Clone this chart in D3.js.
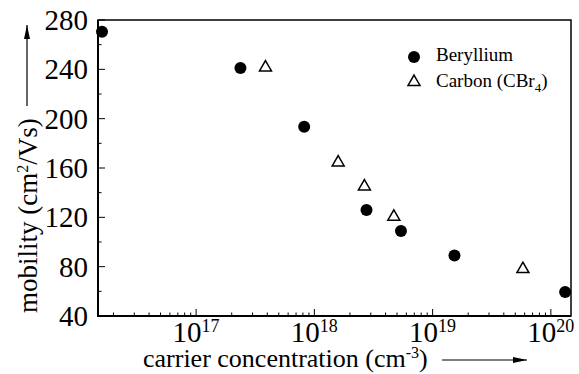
<!DOCTYPE html>
<html>
<head>
<meta charset="utf-8">
<script src="https://cdn.jsdelivr.net/npm/d3@7"></script>
</head>
<body style="margin:0; background:#fff">
<div id="chart-area"></div>
<script>
// data
var berylliumConc = [1.6e16, 2.37e17, 8.2e17, 2.76e18, 5.4e18, 1.53e19, 1.32e20];
var berylliumMob  = [270.5, 241, 193.5, 126, 109, 89, 59.5];
var carbonConc = [3.86e17, 1.59e18, 2.65e18, 4.7e18, 5.8e19];
var carbonMob  = [241.5, 164.5, 145, 120.5, 78];
var xTickExp = [17, 18, 19, 20];
var yTicks = [40, 80, 120, 160, 200, 240, 280];

var serif = "Liberation Serif";

var margin = {top: 20, right: 8, bottom: 58, left: 98};
var width = 579 - margin.left - margin.right,
    height = 374 - margin.top - margin.bottom;

var svg = d3.select("#chart-area")
    .append("svg")
    .attr("width", 579)
    .attr("height", 374);

var g = svg.append("g")
    .attr("transform", "translate(" + margin.left + "," + margin.top + ")");

var x = d3.scaleLog()
    .domain([1.48e16, 1.48e20])
    .range([0, width]);

var y = d3.scaleLinear()
    .domain([40, 280])
    .range([height, 0]);

// frame
g.append("rect")
    .attr("width", width)
    .attr("height", height)
    .attr("fill", "none")
    .attr("stroke", "#000")
    .attr("stroke-width", 1.5);
g.append("path")
    .attr("d", "M0,0V" + height + "H" + width)
    .attr("fill", "none")
    .attr("stroke", "#000")
    .attr("stroke-width", 2);

// bottom ticks (inside), major + minor log ticks
var minor = [];
for (var e = 16; e <= 20; e++) {
    for (var m = 1; m <= 9; m++) {
        var v = m * Math.pow(10, e);
        if (v >= x.domain()[0] && v <= x.domain()[1]) minor.push({v: v, major: m === 1});
    }
}
g.selectAll(".xtick")
    .data(minor)
    .enter().append("line")
    .attr("class", "xtick")
    .attr("x1", function(d) { return x(d.v); })
    .attr("x2", function(d) { return x(d.v); })
    .attr("y1", height)
    .attr("y2", function(d) { return height - (d.major ? 7 : 3.5); })
    .attr("stroke", "#000")
    .attr("stroke-width", 1);

// left ticks (inside)
var yMinor = d3.range(40, 281, 20);
g.selectAll(".ytick")
    .data(yMinor)
    .enter().append("line")
    .attr("class", "ytick")
    .attr("x1", 0)
    .attr("x2", function(d) { return d % 40 === 0 ? 7 : 3.5; })
    .attr("y1", function(d) { return y(d); })
    .attr("y2", function(d) { return y(d); })
    .attr("stroke", "#000")
    .attr("stroke-width", 1);

// y tick labels
g.selectAll(".ylab")
    .data(yTicks)
    .enter().append("text")
    .attr("class", "ylab")
    .attr("font-family", serif)
    .attr("x", -10)
    .attr("y", function(d) { return y(d); })
    .attr("dy", "0.34em")
    .attr("text-anchor", "end")
    .attr("font-size", 29)
    .text(function(d) { return d; });

// x tick labels: 10^n
var xl = g.selectAll(".xlab")
    .data(xTickExp)
    .enter().append("text")
    .attr("class", "xlab")
    .attr("font-family", serif)
    .attr("x", function(d) { return x(Math.pow(10, d)); })
    .attr("y", height + 26)
    .attr("text-anchor", "middle")
    .attr("font-size", 29);
xl.append("tspan").text("10");
xl.append("tspan")
    .attr("dy", -10)
    .attr("font-size", 18)
    .text(function(d) { return d; });

// x axis title with arrow
var xt = svg.append("text")
    .attr("font-family", serif)
    .attr("x", 143)
    .attr("y", 367)
    .attr("font-size", 26);
xt.append("tspan").text("carrier concentration (cm");
xt.append("tspan").attr("dy", -9).attr("font-size", 16).text("-3");
xt.append("tspan").attr("dy", 9).text(")");

svg.append("defs").append("marker")
    .attr("id", "arrow")
    .attr("viewBox", "0 0 14 6")
    .attr("refX", 14)
    .attr("refY", 3)
    .attr("markerWidth", 14)
    .attr("markerHeight", 6)
    .attr("markerUnits", "userSpaceOnUse")
    .attr("orient", "auto")
    .append("path")
    .attr("d", "M0,0L14,3L0,6Z")
    .attr("fill", "#000");

svg.append("line")
    .attr("x1", 442).attr("x2", 527)
    .attr("y1", 360).attr("y2", 360)
    .attr("stroke", "#000").attr("stroke-width", 1.2)
    .attr("marker-end", "url(#arrow)");

// y axis title with arrow
var yt = svg.append("text")
    .attr("font-family", serif)
    .attr("transform", "translate(37,313) rotate(-90)")
    .attr("font-size", 27);
yt.append("tspan").text("mobility (cm");
yt.append("tspan").attr("dy", -9).attr("font-size", 16).text("2");
yt.append("tspan").attr("dy", 9).text("/Vs)");

svg.append("line")
    .attr("x1", 27).attr("x2", 27)
    .attr("y1", 106).attr("y2", 25)
    .attr("stroke", "#000").attr("stroke-width", 1.2)
    .attr("marker-end", "url(#arrow)");

// points
var beData = berylliumConc.map(function(c, i) { return {c: c, m: berylliumMob[i]}; });
var cData = carbonConc.map(function(c, i) { return {c: c, m: carbonMob[i]}; });

var tri = d3.symbol().type(d3.symbolTriangle).size(62);

g.selectAll(".be")
    .data(beData)
    .enter().append("circle")
    .attr("class", "be")
    .attr("cx", function(d) { return x(d.c); })
    .attr("cy", function(d) { return y(d.m); })
    .attr("r", 6)
    .attr("fill", "#000");

g.selectAll(".cb")
    .data(cData)
    .enter().append("path")
    .attr("class", "cb")
    .attr("d", tri)
    .attr("transform", function(d) { return "translate(" + x(d.c) + "," + y(d.m) + ")"; })
    .attr("fill", "none")
    .attr("stroke", "#000")
    .attr("stroke-width", 1.5);

// legend
var legend = svg.append("g").attr("transform", "translate(414,0)");
legend.append("circle").attr("cx", 0).attr("cy", 57).attr("r", 6).attr("fill", "#000");
legend.append("path").attr("d", tri)
    .attr("transform", "translate(0,82)")
    .attr("fill", "none").attr("stroke", "#000").attr("stroke-width", 1.5);
legend.append("text").attr("font-family", serif)
    .attr("x", 22).attr("y", 61).attr("font-size", 19).text("Beryllium");
var lc = legend.append("text").attr("font-family", serif)
    .attr("x", 22).attr("y", 87).attr("font-size", 19);
lc.append("tspan").text("Carbon (CBr");
lc.append("tspan").attr("dy", 5).attr("font-size", 13).text("4");
lc.append("tspan").attr("dy", -5).text(")");
</script>
</body>
</html>
